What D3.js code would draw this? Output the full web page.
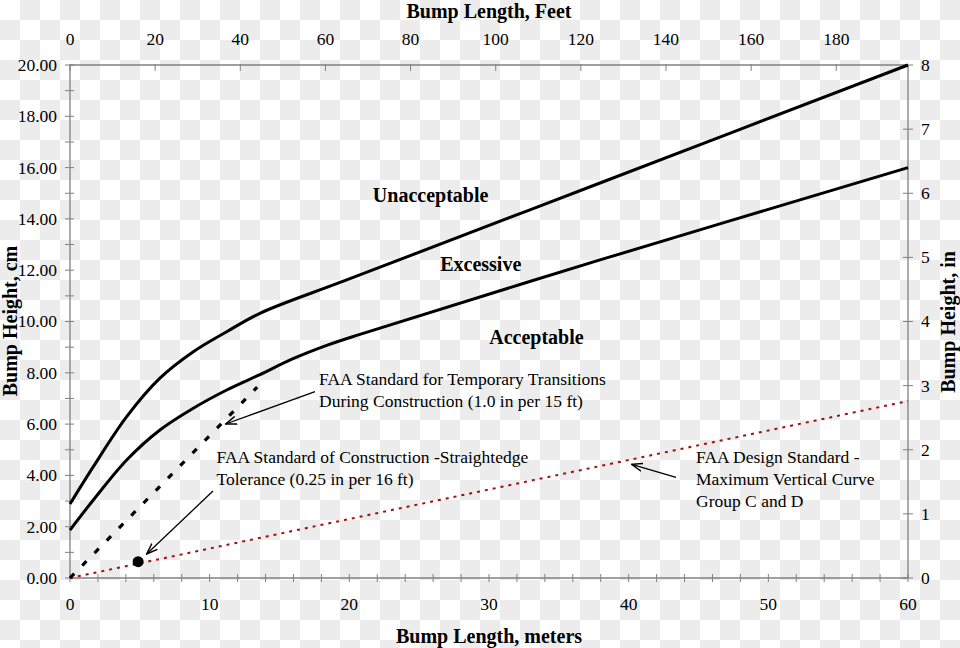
<!DOCTYPE html>
<html>
<head>
<meta charset="utf-8">
<script src="https://cdn.jsdelivr.net/npm/d3@7"></script>
<style>
  html, body { margin: 0; padding: 0; background: #ffffff; }
  svg { display: block; }
  text { font-family: "Liberation Serif", "Times New Roman", serif; fill: #000; }
</style>
</head>
<body>
<svg id="chart" width="960" height="648"></svg>
<script>
// ---- Data (meters / centimeters) ----
const upperLen  = [0, 1.67, 4.06, 6.44, 8.83, 11.22, 13.6, 19.81, 37.95, 60];
const upperHgt  = [2.885, 4.34, 6.29, 7.79, 8.82, 9.60, 10.32, 11.62, 15.40, 20.0];
const lowerLen  = [0, 1.67, 4.06, 6.44, 8.83, 11.22, 13.6, 15.97, 18.38, 20.76, 37.95, 60];
const lowerHgt  = [1.87, 3.04, 4.60, 5.77, 6.62, 7.33, 7.93, 8.55, 9.07, 9.50, 12.40, 16.0];
const tempLen   = [0, 13.4];
const tempHgt   = [0, 7.44];
const designLen = [0, 60];
const designHgt = [0, 6.9];
const straightedgeLen = [4.877];
const straightedgeHgt = [0.635];

const cmTicks   = [0, 2, 4, 6, 8, 10, 12, 14, 16, 18, 20];
const cmMinor   = d3.range(1, 20, 2);
const mTicks    = [0, 10, 20, 30, 40, 50, 60];
const mMinor    = d3.range(0, 61, 2);
const ftTicks   = [0, 20, 40, 60, 80, 100, 120, 140, 160, 180];
const inTicks   = [0, 1, 2, 3, 4, 5, 6, 7, 8];

const regionLabels = ["Unacceptable", "Excessive", "Acceptable"];
const regionPos    = [[25.82, 14.67], [29.41, 11.98], [33.4, 9.12]];

const note1 = ["FAA Standard for Temporary Transitions", "During Construction (1.0 in per 15 ft)"];
const note2 = ["FAA Standard of Construction -Straightedge", "Tolerance (0.25 in per 16 ft)"];
const note3 = ["FAA Design Standard -", "Maximum Vertical Curve", "Group C and D"];

// ---- Layout ----
const svg = d3.select("#chart");
const W = 960, H = 648;
const L = 70, R = 908, T = 65, B = 578;

// checkerboard background
const defs = svg.append("defs");
const pat = defs.append("pattern").attr("id", "chk").attr("patternUnits", "userSpaceOnUse")
  .attr("width", 40).attr("height", 40);
pat.append("rect").attr("width", 40).attr("height", 40).attr("fill", "#ffffff");
pat.append("rect").attr("x", 20).attr("y", 0).attr("width", 20).attr("height", 20).attr("fill", "#ececec");
pat.append("rect").attr("x", 0).attr("y", 20).attr("width", 20).attr("height", 20).attr("fill", "#ececec");
svg.append("rect").attr("width", W).attr("height", H).attr("fill", "url(#chk)");

// arrow marker
defs.append("marker").attr("id", "arr").attr("viewBox", "0 0 12 10")
  .attr("refX", 11).attr("refY", 5).attr("markerWidth", 12).attr("markerHeight", 10)
  .attr("markerUnits", "userSpaceOnUse").attr("orient", "auto")
  .append("path").attr("d", "M0,1 L11,5 L0,9").attr("fill", "none")
  .attr("stroke", "#000").attr("stroke-width", 1.5);

const x  = d3.scaleLinear().domain([0, 60]).range([L, R]);
const y  = d3.scaleLinear().domain([0, 20]).range([B, T]);
const xf = d3.scaleLinear().domain([0, 60 / 0.3048]).range([L, R]);
const yi = d3.scaleLinear().domain([0, 8]).range([B, T]);

const axisColor = "#808080";
const fs = "17.5px";

// frame lines
const g = svg.append("g");
g.append("line").attr("x1", L).attr("x2", R).attr("y1", T).attr("y2", T).attr("stroke", axisColor).attr("stroke-width", 1.3);
g.append("line").attr("x1", L).attr("x2", R).attr("y1", B).attr("y2", B).attr("stroke", axisColor).attr("stroke-width", 1.3);
g.append("line").attr("x1", L).attr("x2", L).attr("y1", T).attr("y2", B).attr("stroke", axisColor).attr("stroke-width", 1.3);
g.append("line").attr("x1", R).attr("x2", R).attr("y1", T).attr("y2", B).attr("stroke", axisColor).attr("stroke-width", 1.3);

// left axis ticks
g.selectAll(".lt").data(cmTicks.concat(cmMinor)).join("line")
  .attr("x1", L - 5).attr("x2", L + 4).attr("y1", d => y(d)).attr("y2", d => y(d))
  .attr("stroke", axisColor).attr("stroke-width", 1);
g.selectAll(".ll").data(cmTicks).join("text")
  .attr("x", L - 13).attr("y", d => y(d)).attr("dy", "0.34em").attr("text-anchor", "end")
  .style("font-size", fs).text(d => d3.format(".2f")(d));

// bottom axis
g.selectAll(".bt").data(mMinor).join("line")
  .attr("x1", d => x(d)).attr("x2", d => x(d)).attr("y1", B - 4).attr("y2", B + 4)
  .attr("stroke", axisColor).attr("stroke-width", 1);
g.selectAll(".bl").data(mTicks).join("text")
  .attr("x", d => x(d)).attr("y", 610).attr("text-anchor", "middle")
  .style("font-size", fs).text(d => d);

// top axis
g.selectAll(".tt").data(ftTicks).join("line")
  .attr("x1", d => xf(d)).attr("x2", d => xf(d)).attr("y1", T - 1).attr("y2", T + 6)
  .attr("stroke", axisColor).attr("stroke-width", 1);
g.selectAll(".tl").data(ftTicks).join("text")
  .attr("x", d => xf(d)).attr("y", 44.5).attr("text-anchor", "middle")
  .style("font-size", fs).text(d => d);

// right axis
g.selectAll(".rt").data(inTicks).join("line")
  .attr("x1", R - 5).attr("x2", R + 5).attr("y1", d => yi(d)).attr("y2", d => yi(d))
  .attr("stroke", axisColor).attr("stroke-width", 1);
g.selectAll(".rl").data(inTicks).join("text")
  .attr("x", R + 13).attr("y", d => yi(d)).attr("dy", "0.34em").attr("text-anchor", "start")
  .style("font-size", fs).text(d => d);

// axis titles
svg.append("text").attr("x", 489).attr("y", 18).attr("text-anchor", "middle")
  .style("font-size", "20px").style("font-weight", "bold").text("Bump Length, Feet");
svg.append("text").attr("x", 489).attr("y", 643).attr("text-anchor", "middle")
  .style("font-size", "20px").style("font-weight", "bold").text("Bump Length, meters");
svg.append("text").attr("transform", "translate(17,321) rotate(-90)").attr("text-anchor", "middle")
  .style("font-size", "20px").style("font-weight", "bold").text("Bump Height, cm");
svg.append("text").attr("transform", "translate(955,322) rotate(-90)").attr("text-anchor", "middle")
  .style("font-size", "20px").style("font-weight", "bold").text("Bump Height, in");

// lines
const line = d3.line().x(d => x(d[0])).y(d => y(d[1]));
const curve = d3.line().x(d => x(d[0])).y(d => y(d[1])).curve(d3.curveCatmullRom.alpha(0.5));

svg.append("path").datum(designLen.map((v, i) => [v, designHgt[i]]))
  .attr("d", line).attr("fill", "none").attr("stroke", "#a01010")
  .attr("stroke-width", 2).attr("stroke-dasharray", "3,5");

svg.append("path").datum(tempLen.map((v, i) => [v, tempHgt[i]]))
  .attr("d", line).attr("fill", "none").attr("stroke", "#000")
  .attr("stroke-width", 3.2).attr("stroke-dasharray", "6,11.5");

svg.append("path").datum(upperLen.map((v, i) => [v, upperHgt[i]]))
  .attr("d", curve).attr("fill", "none").attr("stroke", "#000").attr("stroke-width", 3);
svg.append("path").datum(lowerLen.map((v, i) => [v, lowerHgt[i]]))
  .attr("d", curve).attr("fill", "none").attr("stroke", "#000").attr("stroke-width", 3);

svg.selectAll(".dot").data(straightedgeLen.map((v, i) => [v, straightedgeHgt[i]])).join("circle")
  .attr("cx", d => x(d[0])).attr("cy", d => y(d[1])).attr("r", 5.5).attr("fill", "#000");

// region labels
svg.selectAll(".rg").data(regionLabels).join("text")
  .attr("x", (d, i) => x(regionPos[i][0])).attr("y", (d, i) => y(regionPos[i][1]))
  .attr("text-anchor", "middle").style("font-size", "20px").style("font-weight", "bold")
  .text(d => d);

// notes
function note(lines, x0, y0, lh) {
  svg.append("g").selectAll("text").data(lines).join("text")
    .attr("x", x0).attr("y", (d, i) => y0 + i * lh).style("font-size", fs).text(d => d);
}
note(note1, 319, 385, 21.7);
note(note2, 216.5, 463.3, 21.7);
note(note3, 696, 463.3, 21.7);

// arrows
function arrow(x1, y1, x2, y2) {
  svg.append("line").attr("x1", x1).attr("y1", y1).attr("x2", x2).attr("y2", y2)
    .attr("stroke", "#000").attr("stroke-width", 1.3).attr("marker-end", "url(#arr)");
}
arrow(315, 391.7, 225.7, 424);
arrow(213, 491, 146.7, 554);
arrow(676, 477.3, 631.7, 464.3);
</script>
</body>
</html>
